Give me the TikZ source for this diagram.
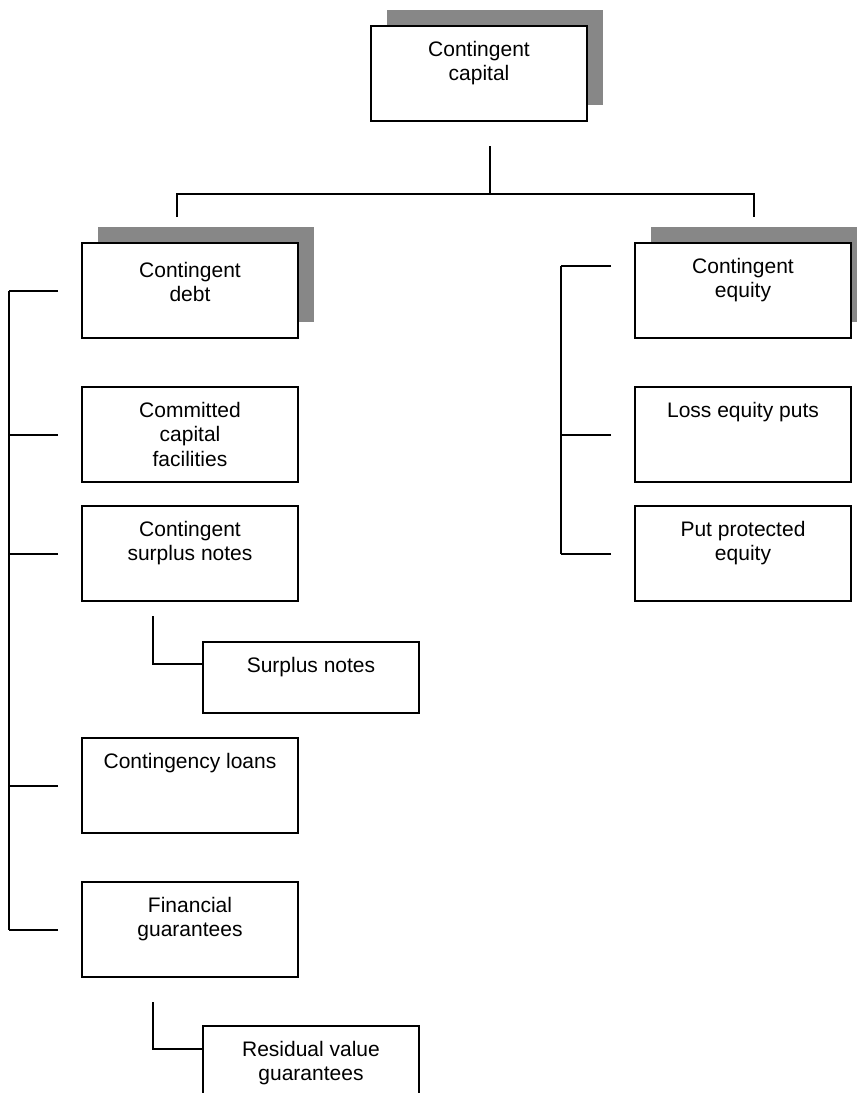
\documentclass[tikz,border=0pt]{standalone}
\usepackage{fontspec}
\setmainfont{Liberation Sans}
\usetikzlibrary{calc}
\usetikzlibrary{shadows}

\definecolor{shadowgray}{gray}{0.53}

\tikzset{
  top pad/.store in=\boxpad, top pad=15pt,
  box/.style={draw, line width=2pt, fill=white, anchor=north west, inner sep=0pt,
    minimum width=216pt, minimum height=#1, font=\fontsize{21}{24.5}\selectfont,
    execute at begin node={\begin{minipage}[t][#1][t]{216pt}\centering\vspace*{\boxpad}},
    execute at end node={\end{minipage}}},
  box/.default=95pt,
  shadowed/.style={drop shadow={shadow xshift=15.5pt, shadow yshift=16.5pt, fill=shadowgray, opacity=1}},
  link/.style={line width=2pt}
}

\begin{document}
\begin{tikzpicture}[x=1pt, y=-1pt]
      \useasboundingbox (0,0) rectangle (857,1093);

      \node[box, shadowed] (cap) at (370,25) {Contingent\\capital};

      \node[box, shadowed, top pad=19pt] (debt) at (81,242) {Contingent\\debt};
      \node[box] (committed) at (81,386) {Committed\\capital\\facilities};
      \node[box] (csn) at (81,505) {Contingent\\surplus notes};
      \node[box=71pt] (surplus) at (202,641) {Surplus notes};
      \node[box] (loans) at (81,737) {Contingency loans};
      \node[box] (fin) at (81,881) {Financial\\guarantees};
      \node[box] (resid) at (202,1025) {Residual value\\guarantees};

      \node[box, shadowed] (equity) at (634,242) {Contingent\\equity};
      \node[box] (loss) at (634,386) {Loss equity puts};
      \node[box] (put) at (634,505) {Put protected\\equity};

      \coordinate (stem) at ($(cap.south)+(11,24)$);
      \coordinate (fork) at ($(stem)+(0,48)$);
      \coordinate (ldrop) at ($(debt.north west)+(96,-25)$);
      \coordinate (rdrop) at ($(equity.north west)+(120,-25)$);
      \draw[link] (stem) -- (fork);
      \draw[link] (ldrop) |- (fork) -| (rdrop);

      \coordinate (lspine) at (9,0);
      \draw[link] (lspine |- debt.west) -- (lspine |- fin.west);
      \draw[link] ($(debt.west)+(-23,0)$) -- (lspine |- debt.west);
      \draw[link] ($(committed.west)+(-23,0)$) -- (lspine |- committed.west);
      \draw[link] ($(csn.west)+(-23,0)$) -- (lspine |- csn.west);
      \draw[link] ($(loans.west)+(-23,0)$) -- (lspine |- loans.west);
      \draw[link] ($(fin.west)+(-23,0)$) -- (lspine |- fin.west);

      \draw[link] ($(csn.south west)+(72,14)$) |- ($(surplus.north west)+(0,23)$);
      \draw[link] ($(fin.south west)+(72,24)$) |- ($(resid.north west)+(0,24)$);

      \coordinate (rspine) at (561,0);
      \coordinate (eqtick) at ($(equity.north west)+(-23,24)$);
      \draw[link] (rspine |- eqtick) -- (rspine |- put.west);
      \draw[link] (eqtick) -- (rspine |- eqtick);
      \draw[link] ($(loss.west)+(-23,0)$) -- (rspine |- loss.west);
      \draw[link] ($(put.west)+(-23,0)$) -- (rspine |- put.west);
    \end{tikzpicture}
\end{document}
